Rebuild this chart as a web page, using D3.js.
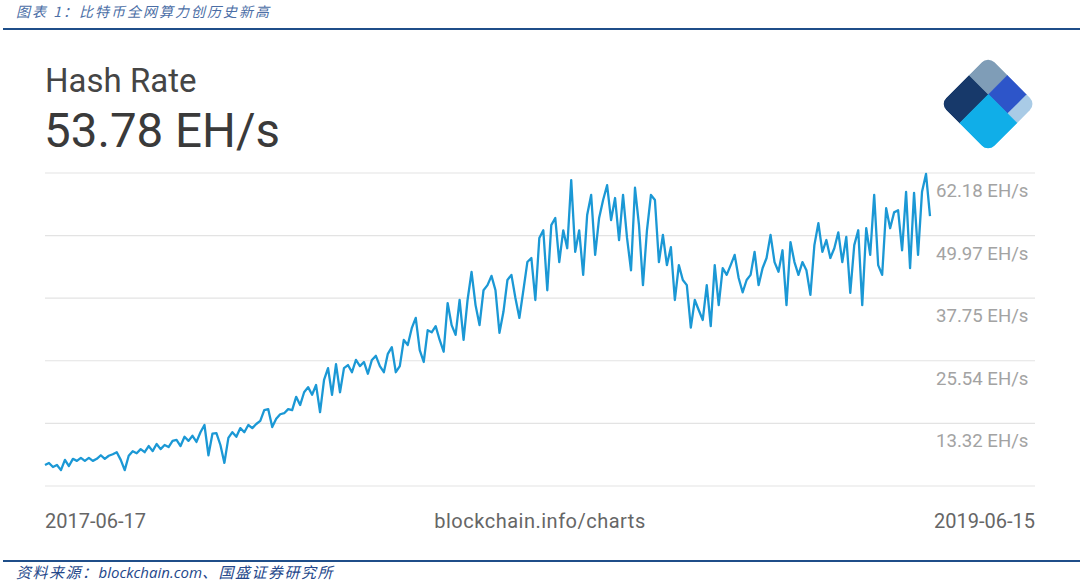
<!DOCTYPE html>
<html>
<head>
<meta charset="utf-8">
<script src="https://cdn.jsdelivr.net/npm/d3@7"></script>
<style>
  body { margin: 0; background: #fff; }
  svg { display: block; }
</style>
</head>
<body>
<div id="chart"></div>
<script>
// hash rate, EH/s, roughly every 3-4 days from 2017-06-17 to 2019-06-15
var hashRate = [
  5.2, 5.6, 4.8, 5.2, 4.2, 6.2, 5.0, 6.4, 6.0, 6.6,
  6.0, 6.6, 6.0, 6.4, 7.1, 6.4, 7.0, 7.3, 7.7, 6.2,
  4.2, 7.0, 7.9, 7.5, 8.3, 7.7, 8.9, 7.9, 9.3, 8.3,
  9.1, 8.7, 9.9, 10.1, 8.9, 10.7, 9.9, 10.9, 9.7, 11.6,
  13.0, 7.1, 11.3, 11.4, 9.1, 5.6, 10.5, 11.6, 10.7, 12.4,
  11.6, 13.0, 12.4, 13.2, 13.8, 15.9, 16.1, 12.6, 14.2, 15.1,
  15.3, 16.1, 15.9, 18.5, 16.9, 19.4, 20.4, 18.9, 20.8, 15.5,
  21.8, 24.1, 18.9, 24.9, 19.4, 24.1, 24.7, 23.3, 25.7, 24.5,
  25.3, 23.0, 25.7, 26.5, 24.5, 23.3, 26.9, 28.2, 23.3, 24.5,
  29.6, 28.6, 31.9, 33.9, 27.6, 25.3, 31.5, 31.1, 32.3, 29.6,
  27.3, 36.8, 32.5, 30.6, 37.4, 29.6, 37.4, 42.9, 36.4, 32.5,
  39.3, 40.3, 42.1, 39.3, 31.0, 35.1, 41.3, 42.3, 37.8, 33.9,
  39.3, 44.8, 45.6, 37.4, 49.5, 51.0, 39.3, 52.0, 53.4, 44.8,
  51.0, 47.5, 60.8, 46.8, 51.0, 42.3, 54.0, 57.9, 46.2, 53.4,
  56.9, 59.8, 53.0, 57.3, 49.1, 57.9, 49.5, 43.2, 59.3, 52.0,
  40.3, 51.0, 57.9, 56.9, 44.8, 50.1, 44.2, 47.7, 37.4, 44.2,
  41.3, 40.3, 32.0, 37.4, 35.4, 33.5, 40.3, 32.3, 44.2, 36.4,
  43.6, 42.3, 44.2, 46.2, 41.7, 38.9, 41.3, 42.3, 46.8, 40.3,
  43.6, 45.6, 50.1, 44.8, 42.9, 47.1, 36.4, 48.7, 44.8, 42.3,
  44.8, 43.2, 38.4, 48.1, 52.4, 46.8, 49.1, 45.6, 47.5, 50.6,
  44.8, 49.7, 38.8, 48.1, 51.0, 36.4, 51.4, 46.2, 57.9, 44.2,
  42.3, 55.3, 51.4, 54.5, 54.9, 47.1, 58.5, 43.6, 58.3, 46.2,
  58.5, 62.0, 53.78
];
var yTicks = [62.18, 49.97, 37.75, 25.54, 13.32];
var yMin = 1.1;
var startLabel = "2017-06-17",
    endLabel = "2019-06-15",
    sourceLabel = "blockchain.info/charts";
var chartTitle = "Hash Rate",
    currentValue = "53.78 EH/s";

var width = 1080, height = 583;
var font = "Roboto, 'Noto Sans', sans-serif";
var cjk = "'Noto Sans CJK SC', sans-serif";

var svg = d3.select("#chart").append("svg")
  .attr("width", width).attr("height", height);

// report header
svg.append("text").attr("x", 16).attr("y", 17)
  .style("font-family", cjk).style("font-size", "14px")
  .style("font-style", "italic").style("letter-spacing", "2px").style("fill", "#4b6ea6")
  .text("图表 1：比特币全网算力创历史新高");
svg.append("rect").attr("x", 3).attr("y", 28).attr("width", 1077).attr("height", 2)
  .style("fill", "#1f4e89");

var x = d3.scaleLinear().domain([0, hashRate.length - 1]).range([45, 930]);
var y = d3.scaleLinear().domain([yMin, yTicks[0]]).range([486, 173]);

// gridlines
svg.append("g").selectAll("line")
  .data(yTicks.concat([yMin]))
  .enter().append("line")
  .attr("x1", 45).attr("x2", 1035)
  .attr("y1", function(d){ return y(d); })
  .attr("y2", function(d){ return y(d); })
  .style("stroke", "#e3e3e3").style("stroke-width", 1.2);

svg.append("g").selectAll("text")
  .data(yTicks)
  .enter().append("text")
  .attr("x", 936)
  .attr("y", function(d){ return y(d) + 24; })
  .style("font-family", font).style("font-size", "18.6px").style("fill", "#a3a3a3")
  .text(function(d){ return d.toFixed(2) + " EH/s"; });

var line = d3.line()
  .x(function(d, i){ return x(i); })
  .y(function(d){ return y(d); });

svg.append("path").datum(hashRate)
  .attr("d", line)
  .style("fill", "none").style("stroke", "#1b98d5")
  .style("stroke-width", 2.3).style("stroke-linejoin", "round");

// big title
svg.append("text").attr("x", 45).attr("y", 92)
  .style("font-family", font).style("font-size", "33px").style("fill", "#454545")
  .text(chartTitle);
svg.append("text").attr("x", 44).attr("y", 147)
  .style("font-family", font).style("font-size", "47.5px").style("fill", "#3a3a3a")
  .text(currentValue);

// logo
var logo = svg.append("g").attr("transform", "translate(940,104) rotate(-45)");
var s = 68;
logo.append("clipPath").attr("id", "logoclip")
  .append("rect").attr("width", s).attr("height", s).attr("rx", 9);
var pieces = [
  { p: [0, 0.6], q: [0, 0.4], c: "#17396a" },
  { p: [0.6, 1], q: [0, 0.4], c: "#7f9db7" },
  { p: [0.6, 1], q: [0.4, 0.8], c: "#2d55c9" },
  { p: [0.6, 1], q: [0.8, 1], c: "#a9cbe6" },
  { p: [0, 0.6], q: [0.4, 1], c: "#10aee8" }
];
logo.append("g").attr("clip-path", "url(#logoclip)")
  .selectAll("rect").data(pieces).enter().append("rect")
  .attr("x", function(d){ return d.p[0] * s; })
  .attr("y", function(d){ return d.q[0] * s; })
  .attr("width", function(d){ return (d.p[1] - d.p[0]) * s + 0.5; })
  .attr("height", function(d){ return (d.q[1] - d.q[0]) * s + 0.5; })
  .style("fill", function(d){ return d.c; });

// bottom labels
var bottom = svg.append("g")
  .style("font-family", font).style("font-size", "20px").style("fill", "#666");
bottom.append("text").attr("x", 45).attr("y", 528).text(startLabel);
bottom.append("text").attr("x", 540).attr("y", 528).attr("text-anchor", "middle")
  .style("letter-spacing", "0.5px").text(sourceLabel);
bottom.append("text").attr("x", 1035).attr("y", 528).attr("text-anchor", "end").text(endLabel);

// footer
svg.append("rect").attr("x", 3).attr("y", 560).attr("width", 1077).attr("height", 2)
  .style("fill", "#1f4e89");
var foot = svg.append("text").attr("x", 16).attr("y", 578)
  .style("font-size", "15px").style("font-style", "italic").style("fill", "#24478a");
foot.append("tspan").style("font-family", cjk).style("letter-spacing", "1.5px").text("资料来源：");
foot.append("tspan").style("font-family", "'Open Sans', sans-serif").text("blockchain.com");
foot.append("tspan").style("font-family", cjk).style("letter-spacing", "1.5px").text("、国盛证券研究所");
</script>
</body>
</html>
